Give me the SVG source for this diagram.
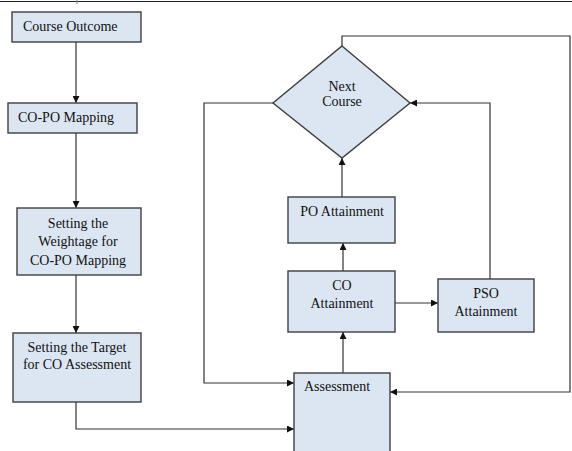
<svg xmlns="http://www.w3.org/2000/svg" width="572" height="451" viewBox="0 0 572 451">
<style>
.box{fill:#dce6f2;stroke:#3f3f3f;stroke-width:1.4}
.t{font-family:"Liberation Serif","Times New Roman",serif;font-size:14px;fill:#111}
.c{text-anchor:middle}
.ln{fill:none;stroke:#333;stroke-width:1.2}
</style>
<defs>
<marker id="a" viewBox="0 0 10 10" refX="10" refY="5" markerWidth="7" markerHeight="7" markerUnits="userSpaceOnUse" orient="auto">
<path d="M0,0 L10,5 L0,10 z" fill="#111"/>
</marker>
</defs>
<rect width="572" height="451" fill="#fff"/>
<g id="border">
<line x1="0" y1="1.5" x2="572" y2="1.5" stroke="#222" stroke-width="1.2"/>
<line x1="77" y1="0" x2="77" y2="4" stroke="#888" stroke-width="1"/>
</g>
<g id="connectors">
<line class="ln" x1="76" y1="42" x2="76" y2="103" marker-end="url(#a)"/>
<line class="ln" x1="76" y1="133" x2="76" y2="208" marker-end="url(#a)"/>
<line class="ln" x1="76" y1="275" x2="76" y2="333" marker-end="url(#a)"/>
<polyline class="ln" points="76,402 76,429 294,429" marker-end="url(#a)"/>
<polyline class="ln" points="273,103 204,103 204,383 294,383" marker-end="url(#a)"/>
<polyline class="ln" points="342,46 342,36 570,36 570,392 390,392" marker-end="url(#a)"/>
<line class="ln" x1="343" y1="373" x2="343" y2="332" marker-end="url(#a)"/>
<line class="ln" x1="343" y1="271" x2="343" y2="243" marker-end="url(#a)"/>
<line class="ln" x1="342" y1="197" x2="342" y2="158" marker-end="url(#a)"/>
<line class="ln" x1="395" y1="303" x2="438" y2="303" marker-end="url(#a)"/>
<polyline class="ln" points="490,279 490,103 410,103" marker-end="url(#a)"/>
</g>
<g id="course-outcome">
<rect class="box" x="12" y="12" width="129" height="30"/>
<text class="t" x="23" y="31">Course Outcome</text>
</g>
<g id="co-po-mapping">
<rect class="box" x="8" y="103" width="129" height="30"/>
<text class="t" x="18" y="122">CO-PO Mapping</text>
</g>
<g id="weightage">
<rect class="box" x="17" y="208" width="124" height="67"/>
<text class="t c" x="78" y="228">Setting the</text>
<text class="t c" x="78" y="246">Weightage for</text>
<text class="t c" x="78" y="265">CO-PO Mapping</text>
</g>
<g id="target">
<rect class="box" x="13" y="333" width="128" height="69"/>
<text class="t c" x="77" y="352">Setting the Target</text>
<text class="t c" x="77" y="369">for CO Assessment</text>
</g>
<g id="assessment">
<rect class="box" x="294" y="373" width="96" height="82"/>
<text class="t c" x="337" y="391">Assessment</text>
</g>
<g id="co-attainment">
<rect class="box" x="288" y="271" width="107" height="61"/>
<text class="t c" x="342" y="290">CO</text>
<text class="t c" x="342" y="308">Attainment</text>
</g>
<g id="po-attainment">
<rect class="box" x="288" y="197" width="107" height="46"/>
<text class="t c" x="342" y="216">PO Attainment</text>
</g>
<g id="pso-attainment">
<rect class="box" x="438" y="279" width="96" height="53"/>
<text class="t c" x="486" y="298">PSO</text>
<text class="t c" x="486" y="316">Attainment</text>
</g>
<g id="next-course">
<polygon class="box" points="342,46 410,103 342,158 273,103"/>
<text class="t c" x="342" y="91">Next</text>
<text class="t c" x="342" y="106">Course</text>
</g>
</svg>
